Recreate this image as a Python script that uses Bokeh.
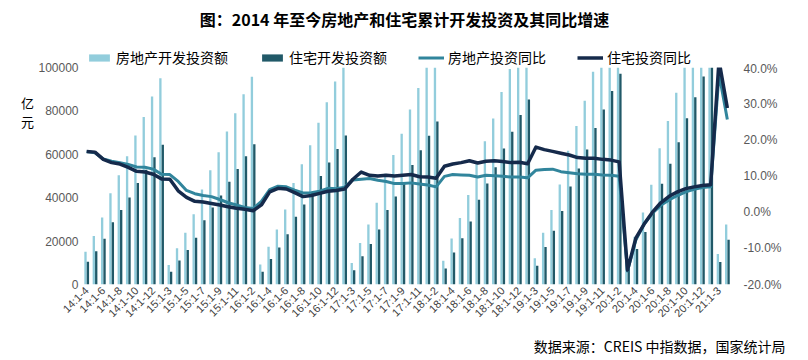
from bokeh.plotting import figure
from bokeh.layouts import column, row
from bokeh.models import (Range1d, LinearAxis, FixedTicker, NumeralTickFormatter,
                          PrintfTickFormatter, ColumnDataSource, Legend, LegendItem, Label)
from bokeh.transform import dodge
from bokeh.embed import file_html
from bokeh.resources import INLINE
import math

# ---------------- data ----------------
categories = [
    "14:1-4", "14:1-5", "14:1-6", "14:1-7", "14:1-8", "14:1-9", "14:1-10", "14:1-11", "14:1-12",
    "15:1-2", "15:1-3", "15:1-4", "15:1-5", "15:1-6", "15:1-7", "15:1-8", "15:1-9", "15:1-10", "15:1-11", "15:1-12",
    "16:1-2", "16:1-3", "16:1-4", "16:1-5", "16:1-6", "16:1-7", "16:1-8", "16:1-9", "16:1-10", "16:1-11", "16:1-12",
    "17:1-2", "17:1-3", "17:1-4", "17:1-5", "17:1-6", "17:1-7", "17:1-8", "17:1-9", "17:1-10", "17:1-11", "17:1-12",
    "18:1-2", "18:1-3", "18:1-4", "18:1-5", "18:1-6", "18:1-7", "18:1-8", "18:1-9", "18:1-10", "18:1-11", "18:1-12",
    "19:1-2", "19:1-3", "19:1-4", "19:1-5", "19:1-6", "19:1-7", "19:1-8", "19:1-9", "19:1-10", "19:1-11", "19:1-12",
    "20:1-2", "20:1-3", "20:1-4", "20:1-5", "20:1-6", "20:1-7", "20:1-8", "20:1-9", "20:1-10", "20:1-11", "20:1-12",
    "21:1-2", "21:1-3", "21:1-4",
]

# 房地产开发投资额 (亿元)
re_invest = [
    15100, 22400, 30900, 42100, 50300, 59100, 68700, 77200, 86600, 95000,
    9000, 16700, 23800, 32400, 43800, 52600, 61000, 70500, 78900, 87700, 95700,
    9200, 17400, 25300, 34600, 46800, 55400, 64200, 74500, 84000, 93500, 102600,
    9900, 19100, 27700, 37700, 51000, 59700, 69500, 80700, 90600, 100400, 109800,
    10900, 21200, 30600, 41300, 55400, 66000, 76500, 88700, 99300, 110100, 120300,
    12100, 23800, 34300, 46100, 61600, 73000, 84700, 98000, 109600, 121300, 132200,
    10100, 22000, 33200, 46000, 62800, 75300, 88400, 103500, 116600, 130500, 141400,
    14000, 27600,
]

# 住宅开发投资额 (亿元)
res_invest = [
    10500, 15300, 21100, 28700, 34300, 40100, 46800, 52900, 58600, 64400,
    5900, 11100, 15900, 21600, 29600, 35500, 41000, 47400, 53200, 59100, 64600,
    5900, 11700, 17000, 23100, 31200, 36900, 42600, 50000, 56200, 62500, 68700,
    6600, 13000, 18700, 25400, 34300, 40600, 47200, 55100, 61900, 68500, 75100,
    7400, 14700, 21300, 29000, 39000, 46500, 54000, 62700, 70400, 78100, 85200,
    8600, 17300, 24800, 33900, 45200, 53500, 62200, 72100, 80700, 89200, 97100,
    7500, 16400, 24200, 33800, 46400, 55700, 65500, 76600, 86300, 95800, 104400,
    10400, 20600,
]

# 房地产投资同比 (%)
re_yoy = [
    16.8, 16.4, 14.7, 14.1, 13.7, 13.2, 12.5, 12.4, 11.9, 10.5,
    10.4, 8.5, 6.0, 5.1, 4.6, 4.3, 3.5, 2.6, 2.0, 1.3, 1.0,
    3.0, 6.2, 7.2, 7.0, 6.1, 5.3, 5.4, 5.8, 6.6, 6.5, 6.9,
    8.9, 9.1, 9.3, 8.8, 8.5, 7.9, 7.9, 8.1, 7.8, 7.5, 7.0,
    9.9, 10.4, 10.3, 10.2, 9.7, 10.2, 10.1, 9.9, 9.7, 9.7, 9.5,
    11.6, 11.8, 11.9, 11.2, 10.9, 10.6, 10.5, 10.5, 10.3, 10.2, 9.9,
    -16.3, -7.7, -3.3, -0.3, 1.9, 3.4, 4.6, 5.6, 6.3, 6.8, 7.0,
    38.3, 25.6,
]

# 住宅投资同比 (%)
res_yoy = [
    16.8, 16.6, 14.6, 13.7, 13.3, 12.4, 11.3, 11.1, 10.5, 9.2,
    9.1, 5.9, 4.1, 3.0, 2.8, 2.4, 2.0, 1.5, 1.1, 0.8, 0.4,
    2.0, 5.6, 6.6, 6.4, 5.4, 4.3, 4.6, 5.2, 5.8, 6.0, 6.4,
    9.1, 11.1, 10.2, 10.0, 10.2, 10.0, 10.2, 10.4, 9.8, 9.7, 9.4,
    12.7, 13.3, 13.7, 14.2, 13.6, 14.1, 14.2, 14.0, 13.7, 13.8, 13.4,
    18.0, 17.3, 16.8, 16.3, 15.8, 15.1, 14.9, 14.9, 14.6, 14.4, 13.9,
    -16.0, -7.2, -3.3, 0.0, 2.6, 4.4, 5.6, 6.5, 7.0, 7.4, 7.6,
    41.9, 28.8,
]

left_ticks = [0, 20000, 40000, 60000, 80000, 100000]
right_ticks = [-20, -10, 0, 10, 20, 30, 40]

title_text = "图：2014 年至今房地产和住宅累计开发投资及其同比增速"
source_text = "数据来源：CREIS 中指数据，国家统计局"
unit_chars = ["亿", "元"]
series_names = ["房地产开发投资额", "住宅开发投资额", "房地产投资同比", "住宅投资同比"]

# ---------------- style ----------------
C_LIGHT = "#92CDDC"
C_DARK = "#215968"
C_TEAL = "#31859C"
C_NAVY = "#152A4B"
CJK = "Noto Sans CJK SC"
LAT = "Liberation Sans"

TOTAL_W = 800
TOP_H = 67
OVERLAP = 6            # main row slides up under the (transparent) top strip
MID_H = 262 + OVERLAP
BOT_H = 27
STRIP_W = 34
MAIN_W = TOTAL_W - STRIP_W


def blank_fig(w, h, x_range=None, y_range=None):
    f = figure(width=w, height=h,
               x_range=x_range if x_range is not None else Range1d(0, w),
               y_range=y_range if y_range is not None else Range1d(0, h),
               x_axis_type=None, y_axis_type=None, min_border=0, title=None,
               toolbar_location=None, output_backend="svg")
    f.outline_line_color = None
    return f


def add_label(f, text, x, y, size, align="center", bold=False, font=CJK, color="#000000"):
    f.add_layout(Label(x=x, y=y, x_units="screen", y_units="screen", text=text,
                       text_font=font, text_font_size=size, text_align=align,
                       text_baseline="middle", text_color=color,
                       text_font_style="bold" if bold else "normal"))


def style_axis(ax, font_size, color, standoff):
    ax.axis_line_color = None
    ax.major_tick_line_color = None
    ax.minor_tick_line_color = None
    ax.major_tick_out = 0
    ax.major_tick_in = 0
    ax.minor_tick_out = 0
    ax.minor_tick_in = 0
    ax.major_label_text_font = LAT
    ax.major_label_text_font_size = font_size
    ax.major_label_text_color = color
    ax.major_label_standoff = standoff


# ---------------- main chart ----------------
idx = list(range(len(categories)))
src = ColumnDataSource(dict(i=idx, re=re_invest, res=res_invest, rey=re_yoy, resy=res_yoy))

p = figure(width=MAIN_W, height=MID_H, x_range=Range1d(-0.5, len(categories) - 0.5),
           y_range=Range1d(0, 100000), output_backend="svg", toolbar_location=None, title=None,
           min_border_left=48, min_border_right=69, min_border_top=OVERLAP, min_border_bottom=45)
p.outline_line_color = None
p.xgrid.visible = False
p.ygrid.visible = False
p.background_fill_alpha = 0
p.border_fill_alpha = 0
p.extra_y_ranges = {"pct": Range1d(-20, 40)}


def draw_series(f):
    a = f.vbar(x=dodge("i", -0.14), top="re", width=0.28, source=src,
               fill_color=C_LIGHT, line_color=None)
    b = f.vbar(x=dodge("i", 0.15), top="res", width=0.28, source=src,
               fill_color=C_DARK, line_color=None)
    c = f.line(x="i", y="rey", source=src, y_range_name="pct", line_color=C_TEAL,
               line_width=3, line_join="round")
    d = f.line(x="i", y="resy", source=src, y_range_name="pct", line_color=C_NAVY,
               line_width=3.5, line_join="round")
    return a, b, c, d


draw_series(p)

ya = p.yaxis[0]
ya.ticker = FixedTicker(ticks=left_ticks)
ya.formatter = NumeralTickFormatter(format="0")
style_axis(ya, "12px", "#595959", 4)

ra = LinearAxis(y_range_name="pct", ticker=FixedTicker(ticks=right_ticks),
                formatter=PrintfTickFormatter(format="%.1f%%"))
style_axis(ra, "12px", "#595959", 12)
p.add_layout(ra, "right")

xa = p.xaxis[0]
xa.ticker = FixedTicker(ticks=[i for i in idx if i % 2 == 0])
xa.major_label_overrides = {i: categories[i] for i in idx if i % 2 == 0}
style_axis(xa, "11px", "#404040", 4)
xa.major_label_orientation = math.pi / 4

# ---------------- top: title + legend ----------------
# the legend swatches come from the same series, drawn outside this strip's visible range
top = blank_fig(TOTAL_W, TOP_H, x_range=Range1d(-3000, -2200), y_range=Range1d(0, 100000))
top.extra_y_ranges = {"pct": Range1d(-20, 40)}
g1, g2, g3, g4 = draw_series(top)
add_label(top, title_text, 404, TOP_H - 18, "16px", bold=True)
legend = Legend(items=[LegendItem(label=series_names[0], renderers=[g1]),
                       LegendItem(label=series_names[1], renderers=[g2]),
                       LegendItem(label=series_names[2], renderers=[g3]),
                       LegendItem(label=series_names[3], renderers=[g4])],
                orientation="horizontal", location=(86, 0),
                glyph_width=26, glyph_height=9, label_standoff=4, spacing=31,
                label_text_font=CJK, label_text_font_size="14px", label_text_color="#000000",
                label_height=16, padding=2, margin=0,
                border_line_color=None, background_fill_alpha=0)
top.add_layout(legend)

# ---------------- left strip: unit ----------------
strip = blank_fig(STRIP_W, MID_H)
strip.background_fill_alpha = 0
strip.border_fill_alpha = 0
add_label(strip, unit_chars[0], 27, MID_H - (80 + OVERLAP), "13px")
add_label(strip, unit_chars[1], 27, MID_H - (99 + OVERLAP), "13px")

# ---------------- bottom: source ----------------
bot = blank_fig(TOTAL_W, BOT_H)
add_label(bot, source_text, 785, BOT_H - 16, "14px", align="right")

mid = row(strip, p, margin=(-OVERLAP, 0, 0, 0))
layout = column(top, mid, bot)
open("out.html", "w").write(file_html(layout, INLINE))
